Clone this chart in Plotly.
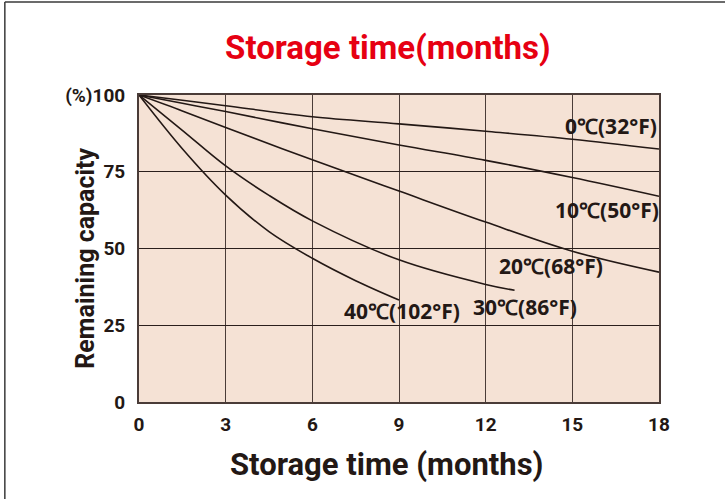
import plotly.graph_objects as go

months = [0, 1.5, 3, 6, 9, 12, 15, 18]
cap_0c = [100, 98.3, 96.5, 92.9, 90.6, 88.2, 85.6, 82.4]
cap_10c = [100, 97.3, 94.6, 89.0, 83.7, 78.7, 73.1, 67.0]
cap_20c = [100, 94.8, 89.4, 78.9, 68.7, 58.6, 49.1, 42.3]
months_30c = [0, 1.5, 3, 4.5, 6, 9, 12, 13]
cap_30c = [100, 88.5, 76.9, 67.3, 59.0, 46.3, 38.3, 36.4]
months_40c = [0, 1.5, 3, 4.5, 6, 7.5, 9]
cap_40c = [100, 82.5, 67.4, 55.5, 46.8, 39.5, 33.2]

labels = ["0℃(32°F)", "10℃(50°F)", "20℃(68°F)", "30℃(86°F)", "40℃(102°F)"]
label_x = [16.33, 16.2, 14.26, 13.35, 9.09]
label_y = [89.8, 62.7, 44.2, 31.1, 29.7]

x_ticks = [0, 3, 6, 9, 12, 15, 18]
y_ticks = [0, 25, 50, 75, 100]
y_ticktext = ["0", "25", "50", "75", "(%)100"]

ink = "#231815"
fig = go.Figure()
series = [(months, cap_0c), (months, cap_10c), (months, cap_20c),
          (months_30c, cap_30c), (months_40c, cap_40c)]
for xs, ys in series:
    fig.add_trace(go.Scatter(x=xs, y=ys, mode="lines",
                             line=dict(color=ink, width=1.6, shape="spline", smoothing=1.0),
                             showlegend=False, hoverinfo="skip"))

for t, lx, ly in zip(labels, label_x, label_y):
    fig.add_annotation(x=lx, y=ly, text=t, showarrow=False,
                       font=dict(family="Open Sans", size=21, color=ink, weight="bold"))

# axis titles
fig.add_annotation(xref="paper", yref="paper", x=0.475, y=-0.205, text="Storage time (months)",
                   showarrow=False, xanchor="center", yanchor="middle",
                   font=dict(family="Roboto", size=31, color=ink, weight="bold"))
fig.add_annotation(xref="paper", yref="paper", x=-0.102, y=0.47, text="Remaining capacity",
                   showarrow=False, textangle=-90, xanchor="center", yanchor="middle",
                   font=dict(family="Roboto", size=25, color=ink, weight="bold"))

# page frame lines (top and left)
fig.add_shape(type="line", xref="paper", yref="paper", x0=-0.258, x1=1.13, y0=1.303, y1=1.303,
              line=dict(color="#3a3a3a", width=1.5))
fig.add_shape(type="line", xref="paper", yref="paper", x0=-0.258, x1=-0.258, y0=-0.32, y1=1.303,
              line=dict(color="#3a3a3a", width=1.5))

fig.update_layout(
    width=725, height=499,
    margin=dict(l=139, r=66, t=95, b=97, autoexpand=False),
    paper_bgcolor="white",
    plot_bgcolor="#f5e2d5",
    title=dict(text="Storage time(months)", x=0.535, xanchor="center", y=0.905, yanchor="middle",
               font=dict(family="Roboto", size=33, color="#e60012", weight="bold")),
    xaxis=dict(range=[0, 18], tickvals=x_ticks, showgrid=True, gridcolor="#4a3c38", gridwidth=1.4,
               showline=True, mirror=True, linecolor="#4a3c38", linewidth=2, zeroline=False,
               ticks="", ticklabelstandoff=4, automargin=False,
               tickfont=dict(family="Roboto", size=19, color=ink, weight="bold")),
    yaxis=dict(range=[0, 100], tickvals=y_ticks, ticktext=y_ticktext, showgrid=True,
               gridcolor="#2a1f1c", gridwidth=1.4,
               showline=True, mirror=True, linecolor="#4a3c38", linewidth=2, zeroline=False,
               ticks="", ticklabelstandoff=8, automargin=False,
               tickfont=dict(family="Roboto", size=19, color=ink, weight="bold")),
)

fig.write_html("out.html", config={"displayModeBar": False},
               post_script="document.body.style.margin='0';")
